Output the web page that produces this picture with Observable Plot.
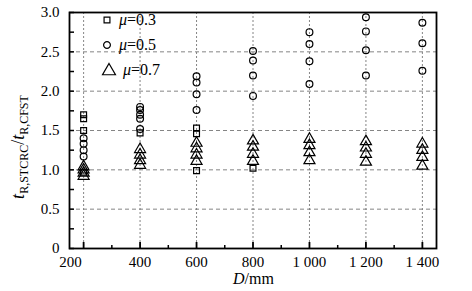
<!DOCTYPE html>
<html>
<head>
<meta charset="utf-8">
<script src="https://cdn.jsdelivr.net/npm/d3@7"></script>
<script src="https://cdn.jsdelivr.net/npm/@observablehq/plot@0.6"></script>
<style>
  html, body { margin: 0; padding: 0; background: #fff; }
  svg text, svg tspan { font-family: "Liberation Serif", "Times New Roman", "DejaVu Serif", serif !important; }
</style>
</head>
<body>
<div id="chart"></div>
<script>
// Diameters D (mm)
const D = [200, 400, 600, 800, 1000, 1200, 1400];
// t_R,STCRC / t_R,CFST ratios per diameter, for each load ratio μ
const mu03 = [[1.70, 1.65, 1.50, 0.97], [1.47], [1.53, 1.46, 0.99], [1.02], [], [], []];
const mu05 = [[1.40, 1.33, 1.25, 1.17], [1.80, 1.76, 1.70, 1.65, 1.52], [2.19, 2.11, 1.96, 1.76],
              [2.51, 2.39, 2.20, 1.94], [2.75, 2.60, 2.38, 2.09], [2.94, 2.76, 2.52, 2.20], [2.87, 2.61, 2.26]];
const mu07 = [[1.04, 1.00, 0.96, 0.92], [1.26, 1.19, 1.12, 1.06], [1.34, 1.27, 1.19, 1.11],
              [1.37, 1.29, 1.20, 1.11], [1.39, 1.31, 1.22, 1.12], [1.36, 1.28, 1.20, 1.10], [1.33, 1.25, 1.16, 1.05]];
const seriesLabels = ["μ=0.3", "μ=0.5", "μ=0.7"];
const yTickLabels = [0, 0.5, 1.0, 1.5, 2.0, 2.5, 3.0];
const yMinorTicks = d3.range(0, 3.001, 0.25);
const xMajorTicks = [200, 400, 600, 800, 1000, 1200, 1400];
const xMinorTicks = [300, 500, 700, 900, 1100, 1300];

const toRows = (arr) => arr.flatMap((vals, i) => vals.map(v => ({D: D[i], r: v})));
const rows03 = toRows(mu03), rows05 = toRows(mu05), rows07 = toRows(mu07);

const SERIF = "'Liberation Serif', 'Times New Roman', 'DejaVu Serif', serif";
const W = 472, H = 291;
const mL = 69, mR = 36, mT = 12, mB = 43;
const innerW = W - mL - mR, innerH = H - mT - mB;
const fmtX = d => d >= 1000 ? `${Math.floor(d / 1000)} ${String(d % 1000).padStart(3, "0")}` : String(d);
const fmtY = d => d === 0 ? "0" : d.toFixed(1);

const plot = Plot.plot({
  width: W, height: H,
  marginLeft: mL, marginRight: mR, marginTop: mT, marginBottom: mB,
  style: {fontFamily: SERIF, fontSize: "15px", color: "#000", background: "#fff"},
  x: {domain: [150, 1450]},
  y: {domain: [0, 3]},
  marks: [
    Plot.gridY([0.5, 1.0, 1.5, 2.0, 2.5], {stroke: "#777", strokeOpacity: 1, strokeDasharray: "4,3", strokeWidth: 0.9}),
    Plot.gridX(xMajorTicks, {stroke: "#777", strokeOpacity: 1, strokeDasharray: "2,2", strokeWidth: 0.9}),
    Plot.axisY(yTickLabels, {tickSize: 0, tickPadding: 10, tickFormat: fmtY, label: null, fontSize: 15}),
    Plot.axisX(xMajorTicks.slice(1), {tickSize: 0, tickPadding: 8, tickFormat: fmtX, label: null, fontSize: 15}),
    Plot.axisX([200], {tickSize: 0, tickPadding: 8, tickFormat: fmtX, label: null, fontSize: 15, dx: -13}),
    Plot.tickY(yMinorTicks, {y: d => d, insetRight: innerW - 5, stroke: "#000", strokeWidth: 1.5}),
    Plot.tickX(xMajorTicks, {x: d => d, insetTop: innerH - 6, stroke: "#000", strokeWidth: 1.8}),
    Plot.tickX(xMinorTicks, {x: d => d, insetTop: innerH - 3, stroke: "#000", strokeWidth: 1.5}),
    Plot.dot(rows03, {x: "D", y: "r", symbol: "square", r: 3.3, stroke: "#000", strokeWidth: 1.2, fill: "none"}),
    Plot.dot(rows05, {x: "D", y: "r", symbol: "circle", r: 3.4, stroke: "#000", strokeWidth: 1.2, fill: "none"}),
    Plot.dot(rows07, {x: "D", y: "r", symbol: "triangle", r: 4.1, stroke: "#000", strokeWidth: 1.2, fill: "none"}),
    Plot.frame({stroke: "#000", strokeWidth: 1.8})
  ]
});

const svg = d3.select(plot);

// Y-axis title with subscripts
const yt = svg.append("text")
  .attr("transform", `translate(24,${mT + innerH / 2 + 17}) rotate(-90)`)
  .attr("text-anchor", "middle")
  .attr("font-size", 18)
  .attr("fill", "#000");
yt.append("tspan").attr("font-style", "italic").text("t");
yt.append("tspan").attr("font-size", 12).attr("dy", 4).text("R,STCRC");
yt.append("tspan").attr("dy", -4).text("/");
yt.append("tspan").attr("font-style", "italic").text("t");
yt.append("tspan").attr("font-size", 12).attr("dy", 4).text("R,CFST");

// X-axis title
const xt = svg.append("text")
  .attr("x", mL + innerW / 2 + 1).attr("y", 284)
  .attr("text-anchor", "middle").attr("font-size", 16).attr("fill", "#000");
xt.append("tspan").attr("font-style", "italic").text("D");
xt.append("tspan").text("/mm");

// Legend
const legendSymbols = [
  {type: d3.symbolSquare, size: Math.PI * 3.3 * 3.3},
  {type: d3.symbolCircle, size: Math.PI * 3.4 * 3.4},
  {type: d3.symbolTriangle, size: Math.PI * 4.8 * 4.8}
];
const lg = svg.append("g").attr("text-anchor", "start");
seriesLabels.forEach((lab, i) => {
  const cy = 20 + i * 25;
  lg.append("path")
    .attr("d", d3.symbol().type(legendSymbols[i].type).size(legendSymbols[i].size)())
    .attr("transform", `translate(${i === 2 ? 109 : 107},${cy + (i === 2 ? 1 : 0)})`)
    .attr("fill", "none").attr("stroke", "#000").attr("stroke-width", 1.2);
  const t = lg.append("text").attr("x", i === 2 ? 123 : 119).attr("y", cy + 5)
    .attr("text-anchor", "start")
    .attr("font-size", 16).attr("fill", "#000");
  t.append("tspan").attr("font-style", "italic").text(lab.slice(0, 1));
  t.append("tspan").text(lab.slice(1));
});

svg.selectAll("text").style("font-family", SERIF);

document.getElementById("chart").appendChild(plot);
</script>
</body>
</html>
